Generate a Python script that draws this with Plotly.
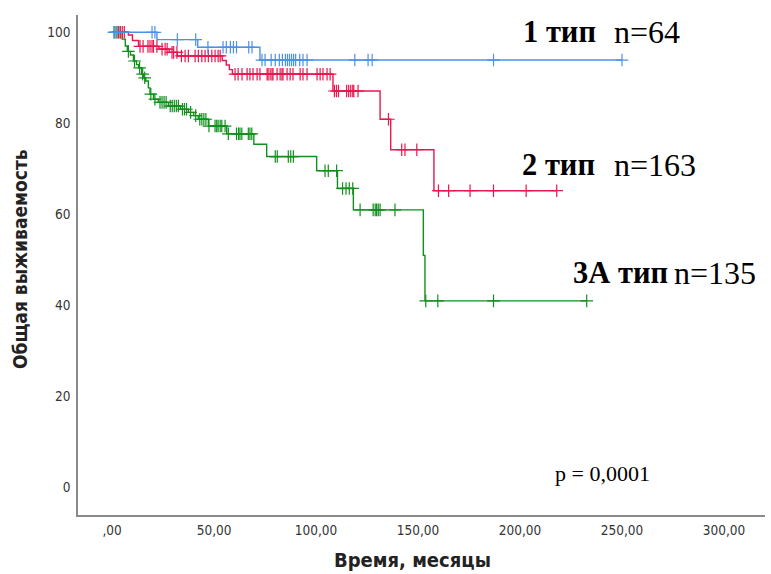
import plotly.graph_objects as go

# ---------------- data (time in months, survival in %) ----------------
blue_name = "1 тип"
blue_n = 64
blue_event_t = [22, 42, 72.5]
blue_event_s = [98.4, 96.7, 93.9]
blue_end = 250
blue_cens_t = [1, 2, 19.6, 21, 32, 41, 47, 54.4, 56, 58, 59.5, 61, 67, 68.6,
               73.5, 75, 78, 80, 82, 83.5, 85, 86, 87, 88, 89, 90, 92, 93.6, 95.6,
               119, 125.5, 127.5, 187, 250]

red_name = "2 тип"
red_n = 163
red_event_t = [8, 10, 13, 23, 28, 32, 54, 56, 57.5, 59, 108.3, 131.4, 136.6, 157.8]
red_event_s = [99.4, 98.2, 96.9, 96.3, 95.6, 94.8, 93.8, 92.8, 91.8, 90.8,
               87.1, 80.9, 74.2, 65.2]
red_end = 218
red_cens_t = [3, 4, 5, 6, 13.7, 15.2, 17.6, 18.6, 19.6, 20.3, 22, 24.5, 26, 27,
              29.4, 30.2, 31.8, 34, 35.8, 37.4, 40.7, 42.3, 44, 45.6, 47.2, 48.9,
              50.5, 52, 53,
              60.3, 61.8, 63.7, 66.2, 67.6, 69.1, 71.1, 72.5, 76, 76.5, 77.5, 78.4,
              78.9, 80.9, 82.4, 83.3, 83.8, 85.8, 87.3, 88.7, 92.2, 93.6, 95.6,
              100.5, 102, 103.4, 105.4, 106.9,
              109, 110, 111, 115, 116, 117, 118, 118.5, 120.6,
              135.5, 142, 143.6, 149.4,
              160, 165, 175.5, 187, 203, 218]

green_name = "3А тип"
green_n = 135
green_event_t = [5.0, 6.5, 7.5, 9, 10.5, 12, 13, 14.5, 15.5, 16.5, 17.8, 18.6, 20.3,
                 22.7, 27.6, 33.5, 37.4, 40, 42.3, 47.2, 56.2, 69.5, 75.8, 100.3,
                 110.5, 118.3, 152.6, 153.4]
green_event_s = [98.5, 97.0, 95.8, 95.0, 93.7, 92.9, 92.2, 90.8, 90.0, 89.3, 87.8,
                 86.4, 85.3, 84.6, 83.8, 83.1, 82.4, 81.7, 80.9, 79.4, 77.7, 75.4,
                 72.7, 69.6, 65.7, 61.0, 51.0, 41.0]
green_end = 232.7
green_cens_t = [1, 2, 3, 4, 8, 11, 13.5, 15, 16, 19, 21, 23.5, 24.5, 25.5, 26.5,
                28.5, 29.5, 30.5, 31.5, 32.5, 34.5, 35.5, 36.5, 38.5, 41, 43, 44,
                45, 46, 47.5, 50.5, 51.3, 52, 53, 53.8, 55.4, 57, 61, 62, 62.7,
                63.6, 66.8, 67.6, 68.5, 80, 81, 86.4, 87.6, 88.9, 104.4, 106,
                110.1, 113, 114.7, 116.3, 118, 121.6, 128, 129, 129.7, 130.5,
                131.4, 138.7, 153.8, 159.7, 187, 232.7]

x_ticks = [0, 50, 100, 150, 200, 250, 300]
x_tick_text = [",00", "50,00", "100,00", "150,00", "200,00", "250,00", "300,00"]
y_ticks = [0, 20, 40, 60, 80, 100]
p_text = "p = 0,0001"
x_title = "Время, месяцы"
y_title = "Общая выживаемость"

# ---------------- helpers ----------------
def km_xy(ev_t, ev_s, end_t):
    return [0] + list(ev_t) + [end_t], [100] + list(ev_s) + [ev_s[-1]]

def surv_at(t, ev_t, ev_s):
    s = 100
    for et, es in zip(ev_t, ev_s):
        if et <= t:
            s = es
    return s

series = [
    (green_event_t, green_event_s, green_end, green_cens_t, "#11901c"),
    (red_event_t, red_event_s, red_end, red_cens_t, "#e8174f"),
    (blue_event_t, blue_event_s, blue_end, blue_cens_t, "#4a92e6"),
]

fig = go.Figure()
for ev_t, ev_s, end_t, cens, col in series:
    x, y = km_xy(ev_t, ev_s, end_t)
    fig.add_trace(go.Scatter(x=x, y=y, mode="lines", line=dict(color=col, width=1.4, shape="hv"),
                             hoverinfo="skip", showlegend=False))
    fig.add_trace(go.Scatter(x=cens, y=[surv_at(t, ev_t, ev_s) for t in cens], mode="markers",
                             marker=dict(symbol="cross-thin", size=9,
                                         line=dict(color=col, width=1.2)),
                             hoverinfo="skip", showlegend=False))

L, R, T, B = 78, 6, 15, 59
W, H = 771, 574
pw, ph = W - L - R, H - T - B

def px(xp):
    return (xp - L) / pw

def py(yp):
    return (H - B - yp) / ph

serif = "Liberation Serif, Times New Roman, serif"
sans = "Liberation Sans Narrow, DejaVu Sans Condensed, Arial Narrow, sans-serif"
ann = []
labels = [
    (blue_name, f"n={blue_n}", 521, 612, 32),
    (red_name, f"n={red_n}", 520, 612, 165),
    (green_name, f"n={green_n}", 571, 672, 273),
]
for name, ntxt, x1, x2, yy in labels:
    ann.append(dict(text=f"<b>{name}</b>", x=px(x1), y=py(yy), xref="paper", yref="paper",
                    xanchor="left", yanchor="middle", showarrow=False,
                    font=dict(family=serif, size=30.5, color="black")))
    ann.append(dict(text=ntxt, x=px(x2), y=py(yy), xref="paper", yref="paper",
                    xanchor="left", yanchor="middle", showarrow=False,
                    font=dict(family=serif, size=32, color="black")))
ann.append(dict(text=p_text, x=px(553), y=py(473), xref="paper", yref="paper",
                xanchor="left", yanchor="middle", showarrow=False,
                font=dict(family=serif, size=22, color="black")))
ann.append(dict(text=f"<b>{x_title}</b>", x=px(412), y=py(560), xref="paper", yref="paper",
                xanchor="center", yanchor="middle", showarrow=False,
                font=dict(family=sans, size=20, color="#222222")))
ann.append(dict(text=f"<b>{y_title}</b>", x=px(20), y=py(259), xref="paper", yref="paper",
                xanchor="center", yanchor="middle", showarrow=False, textangle=-90,
                font=dict(family=sans, size=19, color="#222222")))

fig.update_layout(
    width=W, height=H,
    margin=dict(l=L, r=R, t=T, b=B),
    paper_bgcolor="white", plot_bgcolor="white",
    annotations=ann,
    xaxis=dict(range=[-16.7, 320.1], tickvals=x_ticks, ticktext=x_tick_text,
               showgrid=False, zeroline=False, showline=True, linecolor="#8a8a8a",
               linewidth=1.5, ticks="", ticklabelstandoff=2,
               tickfont=dict(family=sans, size=13.5, color="#333333")),
    yaxis=dict(range=[-6.04, 103.8], tickvals=y_ticks,
               showgrid=False, zeroline=False, showline=True, linecolor="#8a8a8a",
               linewidth=1.5, ticks="", ticklabelstandoff=3,
               tickfont=dict(family=sans, size=13.5, color="#333333")),
)

fig.write_html("out.html")
